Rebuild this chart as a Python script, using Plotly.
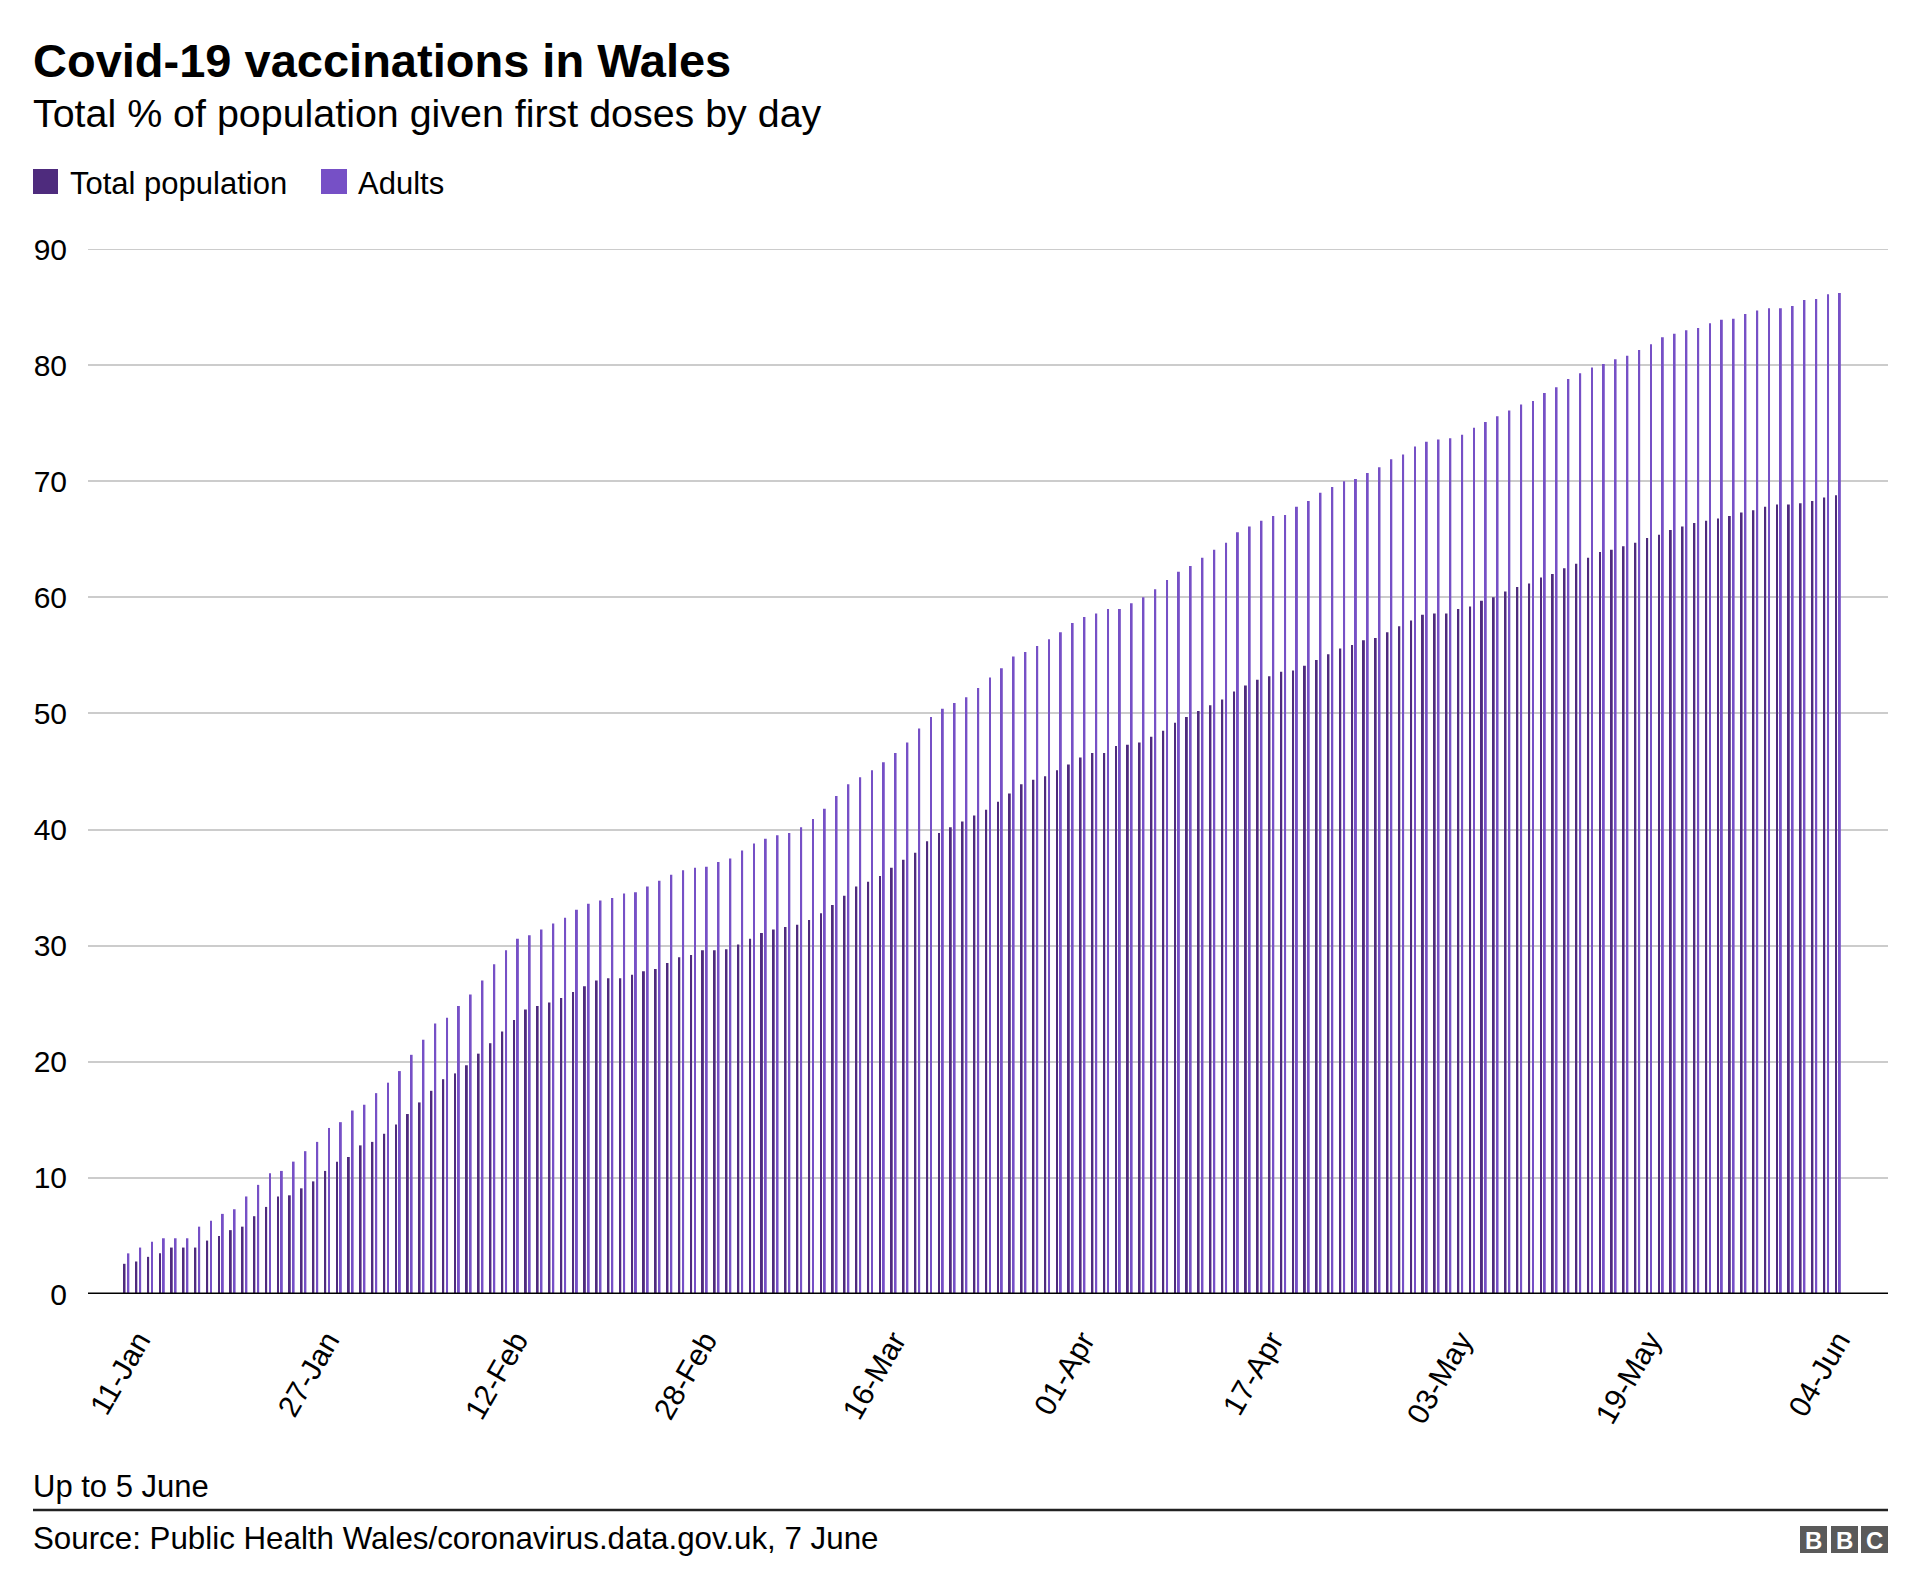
import plotly.graph_objects as go
import pandas as pd

# ---- data ----
dates = pd.date_range("2021-01-11", "2021-06-05", freq="D")
categories = [d.strftime("%Y-%m-%d") for d in dates]

total_population = [
    2.6, 2.8, 3.2, 3.5, 4.0, 4.0, 4.0, 4.6, 5.0, 5.5, 5.8, 6.7, 7.5, 8.4, 8.5, 9.1,
    9.7, 10.6, 11.4, 11.8, 12.8, 13.1, 13.8, 14.6, 15.5, 16.5, 17.5, 18.5, 19.0, 19.7, 20.7, 21.6,
    22.6, 23.6, 24.5, 24.8, 25.1, 25.5, 26.0, 26.5, 27.0, 27.2, 27.2, 27.5, 27.8, 28.0, 28.5, 29.0,
    29.2, 29.6, 29.6, 29.7, 30.1, 30.6, 31.1, 31.4, 31.6, 31.8, 32.2, 32.8, 33.5, 34.3, 35.1, 35.5,
    36.0, 36.7, 37.4, 38.0, 39.0, 39.7, 40.2, 40.7, 41.2, 41.7, 42.4, 43.1, 43.9, 44.3, 44.6, 45.1,
    45.6, 46.2, 46.6, 46.6, 47.2, 47.3, 47.5, 48.0, 48.5, 49.2, 49.7, 50.2, 50.7, 51.2, 51.9, 52.4,
    52.9, 53.2, 53.6, 53.7, 54.1, 54.6, 55.1, 55.6, 55.9, 56.3, 56.5, 57.0, 57.5, 58.0, 58.5, 58.6,
    58.6, 59.0, 59.2, 59.7, 60.0, 60.5, 60.9, 61.2, 61.7, 62.0, 62.5, 62.9, 63.4, 63.9, 64.1, 64.4,
    64.7, 65.1, 65.4, 65.8, 66.1, 66.4, 66.6, 66.8, 67.0, 67.3, 67.5, 67.8, 68.0, 68.0, 68.1, 68.3, 68.6, 68.8,
]

adults = [
    3.5, 4.0, 4.5, 4.8, 4.8, 4.8, 5.8, 6.3, 6.9, 7.3, 8.4, 9.4, 10.4, 10.6, 11.4, 12.3,
    13.1, 14.3, 14.8, 15.8, 16.3, 17.3, 18.2, 19.2, 20.6, 21.9, 23.3, 23.8, 24.8, 25.8, 27.0, 28.4,
    29.6, 30.6, 30.9, 31.4, 31.9, 32.4, 33.1, 33.6, 33.9, 34.1, 34.5, 34.6, 35.1, 35.6, 36.1, 36.5,
    36.7, 36.8, 37.2, 37.5, 38.2, 38.8, 39.2, 39.5, 39.7, 40.2, 40.9, 41.8, 42.9, 43.9, 44.5, 45.1,
    45.8, 46.6, 47.5, 48.7, 49.7, 50.4, 50.9, 51.4, 52.2, 53.1, 53.9, 54.9, 55.3, 55.8, 56.4, 57.0,
    57.8, 58.3, 58.6, 59.0, 59.0, 59.5, 60.0, 60.7, 61.5, 62.2, 62.7, 63.4, 64.1, 64.7, 65.6, 66.1,
    66.6, 67.0, 67.1, 67.8, 68.3, 69.0, 69.5, 70.0, 70.2, 70.7, 71.2, 71.9, 72.3, 73.0, 73.4, 73.6,
    73.7, 74.0, 74.6, 75.1, 75.6, 76.1, 76.6, 76.9, 77.6, 78.1, 78.8, 79.3, 79.8, 80.1, 80.5, 80.8,
    81.3, 81.8, 82.4, 82.7, 83.0, 83.2, 83.6, 83.9, 84.0, 84.4, 84.7, 84.9, 84.9, 85.1, 85.6, 85.7, 86.1, 86.2,
]

tick_vals = categories[::16]
tick_text = ["11-Jan", "27-Jan", "12-Feb", "28-Feb", "16-Mar",
             "01-Apr", "17-Apr", "03-May", "19-May", "04-Jun"]
y_ticks = [0, 10, 20, 30, 40, 50, 60, 70, 80, 90]

# ---- styling ----
W, H = 1920, 1595
PL, PR, PT, PB = 88, 1888, 249, 1294
FONT = "Liberation Sans, Arial, Helvetica, sans-serif"
DARK = "#4e2b7d"
LIGHT = "#7650c6"
GRID = "#cccccc"


def xp(px):
    return (px - PL) / (PR - PL)


def yp(py):
    return (PB - py) / (PB - PT)


fig = go.Figure()
fig.add_trace(go.Bar(x=categories, y=total_population, name="Total population",
                     marker=dict(color=DARK, line=dict(width=0)), showlegend=False))
fig.add_trace(go.Bar(x=categories, y=adults, name="Adults",
                     marker=dict(color=LIGHT, line=dict(width=0)), showlegend=False))

fig.update_layout(
    width=W, height=H, autosize=False,
    margin=dict(l=PL, r=W - PR, t=PT, b=H - PB, pad=0),
    paper_bgcolor="white", plot_bgcolor="white",
    barmode="group", bargap=0.35, bargroupgap=0.5,
    font=dict(family=FONT, color="#000000"),
    showlegend=False,
)

fig.update_xaxes(
    type="category", range=[-3.26, len(categories) - 1 + 4.24],
    tickmode="array", tickvals=tick_vals, ticktext=tick_text,
    tickangle=-60, tickfont=dict(size=30, family=FONT, color="#000000"),
    showgrid=False, zeroline=False, showline=False, ticks="",
    ticklabelstandoff=22, ticklabelshift=12,
)
fig.update_yaxes(
    range=[0, 90], tickmode="array", tickvals=y_ticks,
    tickfont=dict(size=30, family=FONT, color="#000000"),
    showgrid=True, gridcolor=GRID, gridwidth=2,
    zeroline=False, showline=False, ticks="", ticklabelstandoff=20,
)

shapes = []
# top gridline (90)
shapes.append(dict(type="line", xref="paper", yref="y", x0=0, x1=1, y0=90, y1=90,
                   line=dict(color=GRID, width=2), layer="below"))
# baseline
shapes.append(dict(type="line", xref="paper", yref="y", x0=0, x1=1, y0=0, y1=0,
                   line=dict(color="#000000", width=3)))
# legend squares
shapes.append(dict(type="rect", xref="paper", yref="paper",
                   x0=xp(33), x1=xp(58), y0=yp(194), y1=yp(169),
                   fillcolor=DARK, line=dict(width=0)))
shapes.append(dict(type="rect", xref="paper", yref="paper",
                   x0=xp(321), x1=xp(347), y0=yp(194), y1=yp(169),
                   fillcolor=LIGHT, line=dict(width=0)))
# footer rule
shapes.append(dict(type="line", xref="paper", yref="paper",
                   x0=xp(33), x1=xp(1888), y0=yp(1510), y1=yp(1510),
                   line=dict(color="#222222", width=2.5)))
# BBC blocks
for x0 in (1800, 1831, 1861):
    shapes.append(dict(type="rect", xref="paper", yref="paper",
                       x0=xp(x0), x1=xp(x0 + 27), y0=yp(1553), y1=yp(1526),
                       fillcolor="#5a5a5a", line=dict(width=0)))

annotations = [
    dict(text="<b>Covid-19 vaccinations in Wales</b>", x=xp(31), y=yp(61),
         font=dict(size=47, family=FONT, color="#000000")),
    dict(text="Total % of population given first doses by day", x=xp(30.5), y=yp(113),
         font=dict(size=39.4, family=FONT, color="#000000")),
    dict(text="Total population", x=xp(68), y=yp(183),
         font=dict(size=31, family=FONT, color="#000000")),
    dict(text="Adults", x=xp(356), y=yp(183),
         font=dict(size=31, family=FONT, color="#000000")),
    dict(text="Up to 5 June", x=xp(30.5), y=yp(1486),
         font=dict(size=31, family=FONT, color="#000000")),
    dict(text="Source: Public Health Wales/coronavirus.data.gov.uk, 7 June", x=xp(30.5), y=yp(1538),
         font=dict(size=31.3, family=FONT, color="#000000")),
]
for a in annotations:
    a.update(xref="paper", yref="paper", xanchor="left", yanchor="middle", showarrow=False)

for x0, letter in zip((1800, 1831, 1861), ("B", "B", "C")):
    annotations.append(dict(text="<b>%s</b>" % letter, x=xp(x0 + 13.5), y=yp(1540),
                            xref="paper", yref="paper", xanchor="center", yanchor="middle",
                            showarrow=False, font=dict(size=24, family=FONT, color="#ffffff")))

fig.update_layout(shapes=shapes, annotations=annotations)

fig.write_html("out.html", config={"displayModeBar": False},
               post_script="document.body.style.margin='0';")
